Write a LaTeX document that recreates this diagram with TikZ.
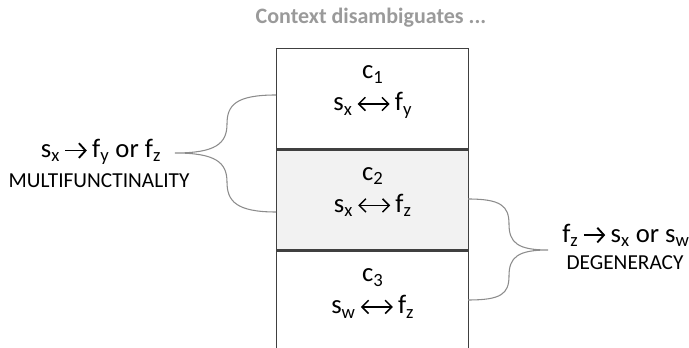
\documentclass[tikz,border=0pt]{standalone}
\usepackage{fontspec}
\setmainfont{Carlito}
\usepackage{tikz}
\usetikzlibrary{positioning,arrows.meta}
\definecolor{boxline}{HTML}{404040}
\definecolor{bracegray}{HTML}{8C8C8C}
\definecolor{titlegray}{HTML}{9A9A9A}
\definecolor{cellfill}{HTML}{F2F2F2}
\newcommand{\sub}[1]{\textsubscript{#1}}
\newcommand{\ra}{\,\tikz[baseline=-0.55ex]\draw[-{Straight Barb[length=5pt,width=11pt]}, line width=1.4pt] (0pt,0pt) -- (16pt,0pt);\,}
\newcommand{\lra}{\,\tikz[baseline=-0.55ex]\draw[{Straight Barb[length=5pt,width=10pt]}-{Straight Barb[length=5pt,width=10pt]}, line width=1.1pt] (0pt,0pt) -- (24pt,0pt);\,}
\tikzset{
  cell/.style={draw=boxline, line width=1.1pt, minimum width=144pt, minimum height=75pt, inner sep=0pt},
  celltext/.style={align=center, font=\fontsize{20}{24}\selectfont, text=black},
  brace/.style={draw=bracegray, line width=0.8pt},
  label/.style={font=\fontsize{20}{24}\selectfont},
  caps/.style={font=\fontsize{16}{19}\selectfont}
}
\begin{document}
\begin{tikzpicture}[x=0.75pt,y=-0.75pt]
                \useasboundingbox (0,0) rectangle (689,348);
                \node [font=\bfseries\fontsize{16.5}{20}\selectfont, text=titlegray] (title) at (371,18) {Context disambiguates ...};
                % the three contexts
                \node [cell, anchor=north west] (cone) at (276,48) {};
                \node [cell, fill=cellfill, anchor=north] (ctwo) at (cone.south) {};
                \node [cell, anchor=north] (cthree) at (ctwo.south) {};
                \node [celltext, anchor=north] (tone) at ([yshift=-10pt]cone.north) {c\sub{1}\\s\sub{x}\lra f\sub{y}};
                \node [celltext, anchor=north] (ttwo) at ([yshift=-10pt]ctwo.north) {c\sub{2}\\s\sub{x}\lra f\sub{z}};
                \node [celltext, anchor=north] (tthree) at ([yshift=-10pt]cthree.north) {c\sub{3}\\s\sub{w}\lra f\sub{z}};
                % braces
                \draw [brace] (276,95) .. controls (236,95) and (227,105) .. (227,124) .. controls (227,144) and (215,153) .. (175,153)
                    .. controls (215,153) and (227,162) .. (227,182) .. controls (227,201) and (236,212) .. (276,212);
                \draw [brace] (468,199) .. controls (501,199) and (509,206) .. (509,224) .. controls (509,243) and (518,250) .. (548,250)
                    .. controls (518,250) and (509,257) .. (509,276) .. controls (509,294) and (501,300) .. (468,300);
                % labels
                \node [label] (multi) at (101,152) {s\sub{x}\ra f\sub{y} or f\sub{z}};
                \node [caps] (multitext) at (99,181) {MULTIFUNCTINALITY};
                \node [label] (degen) at (626,235) {f\sub{z}\ra s\sub{x} or s\sub{w}};
                \node [caps] (degentext) at (625,263) {DEGENERACY};
            \end{tikzpicture}
\end{document}
